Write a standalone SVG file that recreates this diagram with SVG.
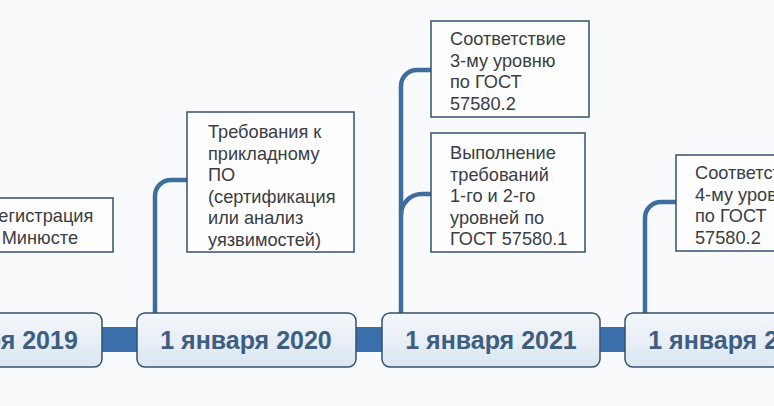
<svg xmlns="http://www.w3.org/2000/svg" width="774" height="406" viewBox="0 0 774 406">
<defs>
<linearGradient id="dg" x1="0" y1="0" x2="0" y2="1">
<stop offset="0" stop-color="#f4f7fb"/>
<stop offset="1" stop-color="#dbe6f1"/>
</linearGradient>
<style>
.date rect{fill:url(#dg);stroke:#34506e;stroke-width:1.5}
.date text{font-family:"Liberation Sans",Arial,sans-serif;font-weight:bold;font-size:25px;fill:#3e5e80;text-anchor:middle}
.note rect{fill:#fdfdfe;stroke:#34506e;stroke-width:1.5}
.note text{font-family:"Liberation Sans",Arial,sans-serif;font-size:18.2px;fill:#3a3d42}
.conn path{fill:none;stroke:#3f6e9e;stroke-width:4.5}
</style>
</defs>
<rect width="774" height="406" fill="#f9fafb"/>
<g id="connectors" class="conn">
<rect x="-10" y="327" width="800" height="25" fill="#3b6fab"/>
<path d="M155,313 V196 A16,16 0 0 1 171,180 H188"/>
<path d="M401,313 V86 A16,16 0 0 1 417,70 H432"/>
<path d="M401,215 A21,21 0 0 1 422,194 H432"/>
<path d="M645,313 V218 A16,16 0 0 1 661,202 H677"/>
</g>
<g id="date2019" class="date"><rect x="-117" y="313" width="219" height="54" rx="8"/><text x="-8" y="349">1 января 2019</text></g>
<g id="date2020" class="date"><rect x="137" y="313" width="219" height="54" rx="8"/><text x="246" y="349">1 января 2020</text></g>
<g id="date2021" class="date"><rect x="382" y="313" width="218" height="54" rx="8"/><text x="491" y="349">1 января 2021</text></g>
<g id="date2022" class="date"><rect x="625" y="313" width="219" height="54" rx="8"/><text x="734" y="349">1 января 2022</text></g>
<g id="note2019" class="note"><rect x="-60" y="198" width="173" height="54"/>
<text x="-13" y="222">Регистрация</text><text x="-13" y="244">в Минюсте</text></g>
<g id="note2020" class="note"><rect x="187" y="112" width="167" height="140"/>
<text x="208" y="138">Требования к</text><text x="208" y="159.5">прикладному</text><text x="208" y="181">ПО</text><text x="208" y="202.5">(сертификация</text><text x="208" y="224">или анализ</text><text x="208" y="245.5">уязвимостей)</text></g>
<g id="note2021a" class="note"><rect x="431" y="21" width="158" height="96"/>
<text x="450" y="45">Соответствие</text><text x="450" y="66.5">3-му уровню</text><text x="450" y="88">по ГОСТ</text><text x="450" y="109.5">57580.2</text></g>
<g id="note2021b" class="note"><rect x="431" y="133" width="154" height="119"/>
<text x="450" y="159">Выполнение</text><text x="450" y="180.5">требований</text><text x="450" y="202">1-го и 2-го</text><text x="450" y="223.5">уровней по</text><text x="450" y="245">ГОСТ 57580.1</text></g>
<g id="note2022" class="note"><rect x="676" y="155" width="160" height="96"/>
<text x="695" y="179">Соответствие</text><text x="695" y="200.5">4-му уровню</text><text x="695" y="222">по ГОСТ</text><text x="695" y="243.5">57580.2</text></g>
</svg>
